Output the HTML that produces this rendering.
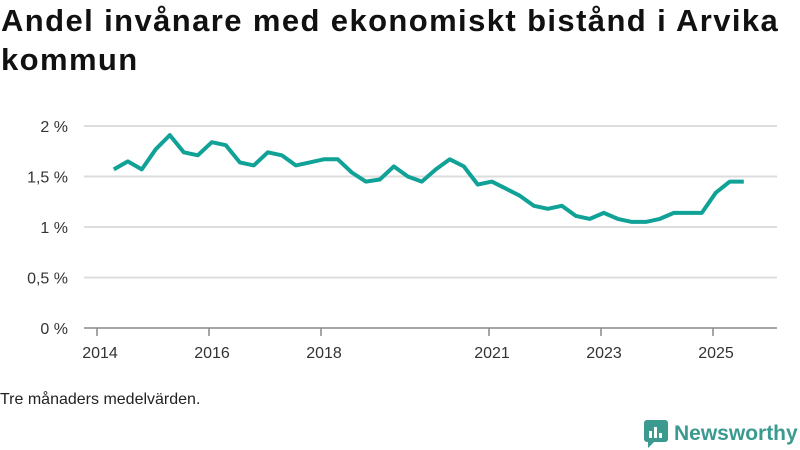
<!DOCTYPE html>
<html><head><meta charset="utf-8"><style>
body{margin:0;background:#fff;font-family:"Liberation Sans",sans-serif;}
#t{position:absolute;left:1px;top:1px;font-size:31px;font-weight:bold;line-height:39px;color:#111;width:798px;letter-spacing:1.4px}
#n{position:absolute;left:0;top:391px;font-size:16px;color:#222}
#logo{position:absolute;left:644px;top:420px;display:flex;align-items:center;gap:6px;color:#3a9a8f;font-size:21px;font-weight:bold}
</style></head><body>
<div id="t">Andel invånare med ekonomiskt bistånd i Arvika kommun</div>
<svg id="c" width="800" height="450" style="position:absolute;left:0;top:0"></svg>
<div id="n">Tre månaders medelvärden.</div>
<div id="logo"><svg width="24" height="28"><rect x="0" y="0" width="24" height="22" rx="3" fill="#3a9a8f"/><polygon points="4,22 10,22 4,28" fill="#3a9a8f"/><rect x="5" y="11" width="3" height="7" fill="#fff"/><rect x="10" y="7" width="3" height="11" fill="#fff"/><rect x="15" y="13" width="3" height="5" fill="#fff"/></svg><span>Newsworthy</span></div>
<script>
const years=[2014,2016,2018,2021,2023,2025];
const yTicks=[0,0.5,1,1.5,2];
const startYear=2014.3;
const values=[1.57,1.65,1.57,1.77,1.91,1.74,1.71,1.84,1.81,1.64,1.61,1.74,1.71,1.61,1.64,1.67,1.67,1.54,1.45,1.47,1.6,1.5,1.45,1.57,1.67,1.6,1.42,1.45,1.38,1.31,1.21,1.18,1.21,1.11,1.08,1.14,1.08,1.05,1.05,1.08,1.14,1.14,1.14,1.34,1.45,1.45];
const svg=document.getElementById('c');const NS='http://www.w3.org/2000/svg';
const x=v=>97+(v-2014)*56;const y=v=>328-v*101;
function mk(t,a,p){const e=document.createElementNS(NS,t);for(const k in a)e.setAttribute(k,a[k]);(p||svg).appendChild(e);return e;}
yTicks.forEach(v=>{
 const l=mk('line',{x1:84,x2:777,y1:y(v),y2:y(v),stroke:v===0?'#888':'#ddd','stroke-width':v===0?1.5:2});
 
 
 const t=mk('text',{x:68,y:y(v)+6,'text-anchor':'end','font-size':16,fill:'#333','font-family':'Liberation Sans,sans-serif'});
 t.textContent=String(v).replace('.',',')+' %';
 
 
});
years.forEach(v=>{
 const l=mk('line',{x1:x(v),x2:x(v),y1:328,y2:336,stroke:'#888','stroke-width':1.5});
 
 
 const t=mk('text',{x:x(v)+3,y:358,'text-anchor':'middle','font-size':16,fill:'#333','font-family':'Liberation Sans,sans-serif'});
 t.textContent=v;
 
 
});
const pts=values.map((v,i)=>x(startYear+i*0.25).toFixed(1)+','+y(v).toFixed(1)).join(' ');
const pl=mk('polyline',{points:pts,fill:'none',stroke:'#10a296','stroke-width':4,'stroke-linejoin':'round'});


</script>
</body></html>
